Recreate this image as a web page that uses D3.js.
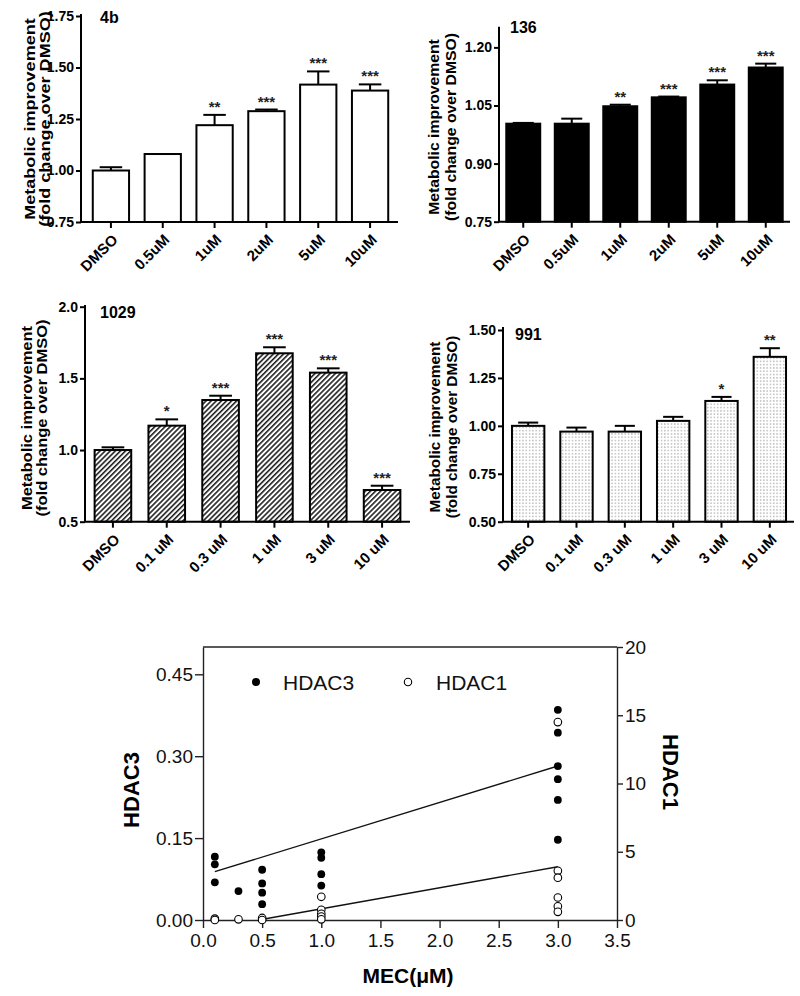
<!DOCTYPE html>
<html><head><meta charset="utf-8">
<script src="https://cdn.jsdelivr.net/npm/d3@7"></script>
<style>
body{margin:0;background:#fff}
svg{display:block}
text{font-family:"Liberation Sans",Arial,sans-serif}
</style>
</head><body>
<svg id="chart" width="800" height="996"></svg>
<script>
// ---------------- DATA ----------------
// Panel "4b"
const cats4b = ["DMSO","0.5uM","1uM","2uM","5uM","10uM"];
const vals4b = [1.00, 1.08, 1.22, 1.288, 1.417, 1.388];
const errs4b = [0.016, 0, 0.05, 0.008, 0.064, 0.03];
const stars4b = ["", "", "**", "***", "***", "***"];
const ticks4b = [0.75, 1.00, 1.25, 1.50, 1.75];

// Panel "136"
const cats136 = ["DMSO","0.5uM","1uM","2uM","5uM","10uM"];
const vals136 = [1.003, 1.003, 1.048, 1.071, 1.104, 1.148];
const errs136 = [0.002, 0.013, 0.004, 0.002, 0.011, 0.010];
const stars136 = ["", "", "**", "***", "***", "***"];
const ticks136 = [0.75, 0.90, 1.05, 1.20];

// Panel "1029"
const cats1029 = ["DMSO","0.1 uM","0.3 uM","1 uM","3 uM","10 uM"];
const vals1029 = [1.00, 1.17, 1.349, 1.675, 1.54, 0.721];
const errs1029 = [0.019, 0.044, 0.03, 0.042, 0.03, 0.03];
const stars1029 = ["", "*", "***", "***", "***", "***"];
const ticks1029 = [0.5, 1.0, 1.5, 2.0];

// Panel "991"
const cats991 = ["DMSO","0.1 uM","0.3 uM","1 uM","3 uM","10 uM"];
const vals991 = [1.00, 0.970, 0.970, 1.026, 1.13, 1.36];
const errs991 = [0.017, 0.021, 0.030, 0.021, 0.021, 0.045];
const stars991 = ["", "", "", "", "*", "**"];
const ticks991 = [0.50, 0.75, 1.00, 1.25, 1.50];

// Scatter: HDAC3 (filled, left axis) and HDAC1 (open, right axis) vs MEC (uM)
const hdac3X = [0.1,0.1,0.1, 0.3, 0.5,0.5,0.5,0.5, 1,1,1,1, 3,3,3,3,3,3];
const hdac3Y = [0.116,0.102,0.069, 0.053, 0.092,0.067,0.050,0.029, 0.124,0.114,0.084,0.063, 0.385,0.343,0.282,0.258,0.220,0.147];
const hdac1X = [0.1,0.1, 0.3, 0.5,0.5, 1,1,1,1,1, 3,3,3,3,3,3];
const hdac1Y = [0.1,0.0, 0.05, 0.15,0.0, 1.7,0.75,0.45,0.25,0.05, 14.5,3.6,3.1,1.65,1.0,0.6];
// regression line end points
const hdac3FitX = [0.1, 3.0];
const hdac3FitY = [0.0885, 0.282];
const hdac1FitX = [0.47, 3.0];
const hdac1FitY = [0.0, 3.9];
const xTicksMEC = [0,0.5,1.0,1.5,2.0,2.5,3.0,3.5];
const yTicksHDAC3 = [0.00,0.15,0.30,0.45];
const yTicksHDAC1 = [0,5,10,15,20];

// ---------------- DRAW ----------------
const svg = d3.select("#chart");
const defs = svg.append("defs");
const hatch = defs.append("pattern").attr("id","hatch").attr("patternUnits","userSpaceOnUse")
  .attr("width",3.6).attr("height",3.6).attr("patternTransform","rotate(45)");
hatch.append("rect").attr("width",3.6).attr("height",3.6).attr("fill","#fff");
hatch.append("line").attr("x1",0.8).attr("y1",0).attr("x2",0.8).attr("y2",3.6)
  .attr("stroke","#111").attr("stroke-width",1.5);
const dots = defs.append("pattern").attr("id","dots").attr("patternUnits","userSpaceOnUse")
  .attr("width",3.3).attr("height",3.3);
dots.append("rect").attr("width",3.3).attr("height",3.3).attr("fill","#fff");
dots.append("circle").attr("cx",1.6).attr("cy",1.6).attr("r",0.6).attr("fill","#777");

const FONT = '"Liberation Sans",Arial,sans-serif';

function barPanel(o, cats, vals, errs, stars, ticks, title){
  const g = svg.append("g");
  const x = d3.scaleBand().domain(cats).range(o.xRange).paddingInner(o.pad).paddingOuter(o.pad/2);
  const y = d3.scaleLinear().domain(o.domain).range([o.bottom, o.top]);
  const data = cats.map((c,i)=>({c, v:vals[i], e:errs[i], s:stars[i]}));

  // bars
  g.selectAll("rect.bar").data(data).join("rect").attr("class","bar")
    .attr("x", d=>x(d.c)).attr("width", x.bandwidth())
    .attr("y", d=>y(d.v)).attr("height", d=>y(o.domain[0])-y(d.v))
    .attr("fill", o.fill).attr("stroke","#000").attr("stroke-width",2);

  // error bars (upper only)
  const cap = x.bandwidth()*0.62;
  const eb = g.selectAll("g.err").data(data.filter(d=>d.e>0)).join("g").attr("class","err");
  eb.append("line").attr("x1", d=>x(d.c)+x.bandwidth()/2).attr("x2", d=>x(d.c)+x.bandwidth()/2)
    .attr("y1", d=>y(d.v)).attr("y2", d=>y(d.v+d.e)).attr("stroke","#000").attr("stroke-width",2);
  eb.append("line").attr("x1", d=>x(d.c)+x.bandwidth()/2-cap/2).attr("x2", d=>x(d.c)+x.bandwidth()/2+cap/2)
    .attr("y1", d=>y(d.v+d.e)).attr("y2", d=>y(d.v+d.e)).attr("stroke","#000").attr("stroke-width",2);

  // stars
  g.selectAll("text.star").data(data).join("text").attr("class","star")
    .attr("x", d=>x(d.c)+x.bandwidth()/2).attr("y", d=>y(d.v+d.e)-3)
    .attr("text-anchor","middle").attr("font-size",15).attr("font-weight","bold")
    .attr("fill","#222").text(d=>d.s);

  // y axis
  const ya = g.append("g").attr("transform",`translate(${o.axisX},0)`)
    .call(d3.axisLeft(y).tickValues(ticks).tickFormat(d3.format(o.fmt)).tickSize(5).tickSizeOuter(0).tickPadding(2));
  ya.select(".domain").remove();
  ya.selectAll(".tick line").attr("stroke","#000").attr("stroke-width",2);
  ya.selectAll("text").attr("font-size",14).attr("font-weight","bold").attr("fill","#000").style("font-family",FONT);
  g.append("line").attr("x1",o.axisX).attr("x2",o.axisX).attr("y1",o.bottom).attr("y2",o.axisTop)
    .attr("stroke","#000").attr("stroke-width",2);

  // x axis
  const xa = g.append("g").attr("transform",`translate(0,${o.bottom})`)
    .call(d3.axisBottom(x).tickSize(6).tickSizeOuter(0));
  xa.select(".domain").remove();
  xa.selectAll(".tick line").attr("stroke","#000").attr("stroke-width",2);
  xa.selectAll("text").attr("x",0).attr("y",0).attr("dy","0.35em")
    .attr("transform","translate(4,15) rotate(-45)").style("text-anchor","end")
    .attr("font-size",15).attr("font-weight","bold").attr("fill","#000").style("font-family",FONT);
  g.append("line").attr("x1",o.axisX).attr("x2",o.axisEnd).attr("y1",o.bottom).attr("y2",o.bottom)
    .attr("stroke","#000").attr("stroke-width",2);

  // title
  g.append("text").attr("x",o.titleX).attr("y",o.titleY).attr("font-size",16).attr("font-weight","bold").text(title);

  // y label (two lines, baseline positions)
  const lab = g.append("g").attr("transform",`translate(0,${o.labelY})`);
  [["Metabolic improvement", o.labelX1], ["(fold change over DMSO)", o.labelX2]].forEach(([t,lx])=>{
    lab.append("text").attr("transform",`translate(${lx},0) rotate(-90) scale(${o.labelStretch},1)`)
      .attr("text-anchor","middle")
      .attr("font-size",o.labelSize).attr("font-weight","bold").text(t);
  });
}

barPanel({xRange:[85,396], pad:0.3, domain:[0.75,1.75], bottom:222, top:16, axisX:81, axisTop:14, axisEnd:398,
  fmt:".2f", fill:"#fff", titleX:100, titleY:23, labelX1:35, labelX2:49.5, labelY:119, labelStretch:1.29, labelSize:14},
  cats4b, vals4b, errs4b, stars4b, ticks4b, "4b");

barPanel({xRange:[499,790], pad:0.3, domain:[0.75,1.25], bottom:221.7, top:28, axisX:499, axisTop:26.7, axisEnd:790,
  fmt:".2f", fill:"#000", titleX:510, titleY:33, labelX1:439, labelX2:456, labelY:127, labelStretch:1.05, labelSize:15},
  cats136, vals136, errs136, stars136, ticks136, "136");

barPanel({xRange:[86,409], pad:0.32, domain:[0.5,2.0], bottom:521.7, top:306.7, axisX:85, axisTop:305, axisEnd:410,
  fmt:".1f", fill:"url(#hatch)", titleX:100, titleY:318, labelX1:32, labelX2:47, labelY:418, labelStretch:1.1, labelSize:15},
  cats1029, vals1029, errs1029, stars1029, ticks1029, "1029");

barPanel({xRange:[504,794], pad:0.33, domain:[0.5,1.5], bottom:521.7, top:330, axisX:503, axisTop:327, axisEnd:794,
  fmt:".2f", fill:"url(#dots)", titleX:515, titleY:340, labelX1:440, labelX2:457, labelY:427, labelStretch:1.02, labelSize:15},
  cats991, vals991, errs991, stars991, ticks991, "991");

// ---------------- SCATTER ----------------
const sc = svg.append("g");
const xS = d3.scaleLinear().domain([0,3.5]).range([203,617]);
const yL = d3.scaleLinear().domain([0,0.5]).range([920,647]);
const yR = d3.scaleLinear().domain([0,20]).range([920,647]);
const lineCol = "#222";

const la = sc.append("g").attr("transform","translate(203,0)")
  .call(d3.axisLeft(yL).tickValues(yTicksHDAC3).tickFormat(d3.format(".2f")).tickSize(8).tickSizeOuter(0).tickPadding(2));
const ra = sc.append("g").attr("transform","translate(617,0)")
  .call(d3.axisRight(yR).tickValues(yTicksHDAC1).tickFormat(d3.format("d")).tickSize(6).tickSizeOuter(0).tickPadding(2));
const ba = sc.append("g").attr("transform","translate(0,920)")
  .call(d3.axisBottom(xS).tickValues(xTicksMEC).tickFormat(d3.format(".1f")).tickSize(8).tickSizeOuter(0).tickPadding(6));
[la,ra,ba].forEach(a=>{
  a.selectAll("path,line").attr("stroke",lineCol).attr("stroke-width",1.4);
  a.selectAll("text").attr("font-size",19).attr("fill","#111").style("font-family",FONT);
});
sc.append("line").attr("x1",xS(0)).attr("x2",xS(3.5)).attr("y1",yL(0.5)).attr("y2",yL(0.5))
  .attr("stroke",lineCol).attr("stroke-width",1.4);

// regression lines
sc.append("line").attr("x1",xS(hdac3FitX[0])).attr("y1",yL(hdac3FitY[0]))
  .attr("x2",xS(hdac3FitX[1])).attr("y2",yL(hdac3FitY[1])).attr("stroke","#111").attr("stroke-width",1.4);
sc.append("line").attr("x1",xS(hdac1FitX[0])).attr("y1",yR(hdac1FitY[0]))
  .attr("x2",xS(hdac1FitX[1])).attr("y2",yR(hdac1FitY[1])).attr("stroke","#111").attr("stroke-width",1.4);

// points
sc.selectAll("circle.h3").data(hdac3X.map((d,i)=>[d,hdac3Y[i]])).join("circle").attr("class","h3")
  .attr("cx",d=>xS(d[0])).attr("cy",d=>yL(d[1])).attr("r",3.9).attr("fill","#000");
sc.selectAll("circle.h1").data(hdac1X.map((d,i)=>[d,hdac1Y[i]])).join("circle").attr("class","h1")
  .attr("cx",d=>xS(d[0])).attr("cy",d=>yR(d[1])).attr("r",3.8).attr("fill","#fff").attr("stroke","#000").attr("stroke-width",1.1);

// legend
sc.append("circle").attr("cx",256).attr("cy",682).attr("r",4).attr("fill","#000");
sc.append("text").attr("x",283).attr("y",689.5).attr("font-size",21).attr("fill","#111").text("HDAC3");
sc.append("circle").attr("cx",408).attr("cy",682).attr("r",3.7).attr("fill","#fff").attr("stroke","#000").attr("stroke-width",1.1);
sc.append("text").attr("x",436).attr("y",689.5).attr("font-size",21).attr("fill","#111").text("HDAC1");

// axis titles
sc.append("text").attr("transform","translate(131,790) rotate(-90)").attr("text-anchor","middle").attr("dy","0.35em")
  .attr("font-size",22).attr("font-weight","bold").text("HDAC3");
sc.append("text").attr("transform","translate(671,772) rotate(90)").attr("text-anchor","middle").attr("dy","0.35em")
  .attr("font-size",22).attr("font-weight","bold").text("HDAC1");
sc.append("text").attr("x",408).attr("y",983).attr("text-anchor","middle")
  .attr("font-size",21).attr("font-weight","bold").text("MEC(μM)");
</script>
</body></html>
